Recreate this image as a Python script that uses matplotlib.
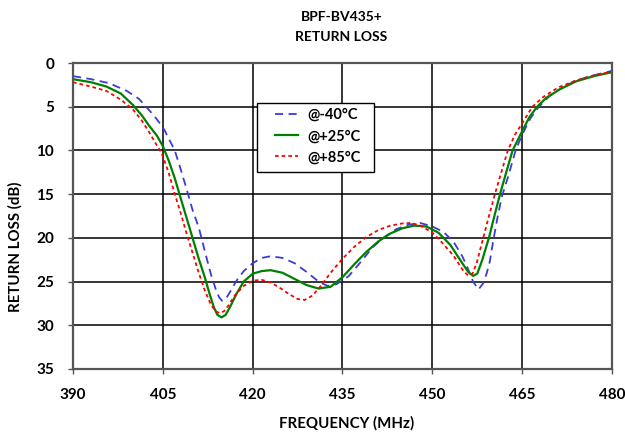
import matplotlib
matplotlib.use("Agg")
import matplotlib.pyplot as plt
from matplotlib.patches import Rectangle

# frequency (MHz) / return loss (dB)
freq_m40 = [390, 393, 396, 399, 401, 402.2, 403.5, 404.5, 405.3, 406.1, 407, 408, 409, 410, 411,
            412, 413, 413.8, 414.4, 414.9, 415.5, 416.3, 417.3, 418.5, 420, 421.5, 423, 425,
            427, 429, 431, 432.5, 434, 436, 438, 440, 442, 444, 446, 448, 450, 451.8, 453.5,
            455, 455.8, 456.8, 457.7, 458.5, 459.1, 459.6, 460.2, 460.9, 461.6, 462.7, 463.9,
            465, 466.4, 467.8, 469.5, 471.5, 474, 477, 480]
rl_m40 = [1.5, 1.85, 2.3, 3.2, 4.1, 5.0, 6.0, 6.9, 7.7, 8.8, 10.0, 12.2, 14.5, 16.9, 18.8,
          21.5, 24.1, 25.8, 26.8, 27.2, 27.0, 26.1, 24.9, 23.8, 22.9, 22.3, 22.1, 22.3,
          22.9, 23.9, 25.0, 25.5, 25.3, 24.4, 22.8, 21.1, 19.9, 19.0, 18.5, 18.3, 18.7, 19.3,
          20.4, 22.1, 23.3, 25.0, 25.9, 25.2, 24.0, 22.7, 20.2, 17.6, 15.3, 12.9, 10.0,
          8.2, 6.3, 5.0, 3.8, 2.9, 2.0, 1.4, 0.9]

freq_p25 = [390, 393, 395.6, 398, 400, 401.5, 402.8, 404, 405, 406, 407, 408, 409, 410, 411,
            412, 412.8, 413.5, 414.1, 414.8, 415.5, 416.3, 417.3, 418.5, 420, 421.5, 423, 425,
            427, 429, 431, 433, 435, 437, 439, 441, 443, 445, 447, 449, 451, 453, 455, 456,
            456.8, 457.5, 458.3, 459.45, 460.4, 461.3, 462.3, 463.4, 465, 466.2, 467.5, 469,
            471.3, 474, 477, 480]
rl_p25 = [1.85, 2.2, 2.7, 3.5, 4.8, 6.0, 7.25, 8.3, 9.5, 11.2, 13.2, 15.5, 17.8, 20.1, 22.4,
          24.5, 26.4, 27.9, 28.8, 29.1, 28.8, 27.8, 26.4, 25.0, 24.1, 23.8, 23.7, 24.0,
          24.7, 25.4, 25.8, 25.6, 24.5, 23.0, 21.6, 20.4, 19.5, 18.9, 18.6, 18.7, 19.4, 20.8,
          22.9, 23.9, 24.35, 24.1, 22.6, 20.0, 17.4, 15.0, 12.6, 10.0, 7.8, 6.2, 5.0, 4.0,
          3.0, 2.1, 1.5, 1.05]

freq_p85 = [390, 393, 395.6, 398, 400, 401.5, 402.8, 403.8, 404.8, 406, 407, 408, 409, 410, 411,
            412, 413, 413.8, 414.5, 415.2, 416, 417, 418.5, 420, 421.5, 423, 424.5, 426, 427.5,
            428.7, 430, 431.5, 433, 435, 437, 439, 441, 443, 445, 446.5, 448, 450, 451.3,
            453.5, 455.2, 456, 456.7, 457.4, 458.5, 459.3, 460.2, 461.3, 462.6, 463.8, 465,
            466.7, 468.5, 471, 474, 477, 480]
rl_p85 = [2.2, 2.7, 3.2, 4.2, 5.3, 6.6, 8.0, 9.2, 10.3, 12.6, 15.0, 17.2, 19.6, 21.8, 24.0,
          26.0, 27.6, 28.4, 28.6, 28.4, 27.7, 26.6, 25.5, 24.9, 24.8, 25.1, 25.7, 26.4, 27.0,
          27.1, 26.6, 25.4, 24.0, 22.4, 21.0, 19.9, 19.1, 18.6, 18.35, 18.3, 18.6, 19.4, 20.3,
          22.0, 23.8, 24.3, 24.1, 22.9, 20.0, 17.9, 15.6, 13.0, 10.0, 8.2, 6.9,
          5.0, 3.9, 2.8, 2.0, 1.4, 1.0]

x_ticks = [390, 405, 420, 435, 450, 465, 480]
y_ticks = [0, 5, 10, 15, 20, 25, 30, 35]

plt.rcParams["font.family"] = ["Lato", "DejaVu Sans"]
plt.rcParams["font.weight"] = "bold"

fig = plt.figure(figsize=(6.25, 4.36), dpi=100)
ax = fig.add_axes([0.1168, 0.1537, 0.8624, 0.7018])

ax.plot(freq_m40, rl_m40, color="#3c3cd4", lw=1.3, dashes=(4.5, 3), label="@-40°C")
ax.plot(freq_p25, rl_p25, color="#008000", lw=1.6, label="@+25°C")
ax.plot(freq_p85, rl_p85, color="#ff0000", lw=1.3, dashes=(2, 1.7), label="@+85°C")

ax.set_xlim(390, 480)
ax.set_ylim(35, 0)
ax.set_xticks(x_ticks)
ax.set_yticks(y_ticks)
ax.grid(True, color="black", lw=1.1)
ax.set_axisbelow(True)
ax.tick_params(labelsize=11, length=3.5, width=1.0, color="#555555", pad=10)
for lab in ax.get_xticklabels() + ax.get_yticklabels():
    lab.set_fontweight("bold")
for sp in ax.spines.values():
    sp.set_color("#555555")
    sp.set_linewidth(1.6)

ax.set_xlabel("FREQUENCY (MHz)", fontsize=10.8, fontweight="bold")
ax.set_ylabel("RETURN LOSS (dB)", fontsize=10.8, fontweight="bold")
ax.xaxis.set_label_coords(0.507, -0.155)
ax.yaxis.set_label_coords(-0.093, 0.40)
fig.text(0.546, 0.962, "BPF-BV435+", ha="center", va="center", fontsize=10, fontweight="bold")
fig.text(0.546, 0.916, "RETURN LOSS", ha="center", va="center", fontsize=10, fontweight="bold")

# legend box drawn separately so the padding matches
ax.add_patch(Rectangle((0.3414, 0.6438), 0.2171, 0.2255, transform=ax.transAxes,
                       facecolor="white", edgecolor="black", lw=1.0, zorder=4))
leg = ax.legend(loc="upper left", bbox_to_anchor=(0.3748, 0.853), borderaxespad=0,
                borderpad=0, frameon=False, fontsize=10.5, handlelength=1.6,
                handletextpad=0.6, labelspacing=0.5)
leg.set_zorder(5)
for t in leg.get_texts():
    t.set_fontweight("bold")

fig.savefig("out.png", dpi=100)
